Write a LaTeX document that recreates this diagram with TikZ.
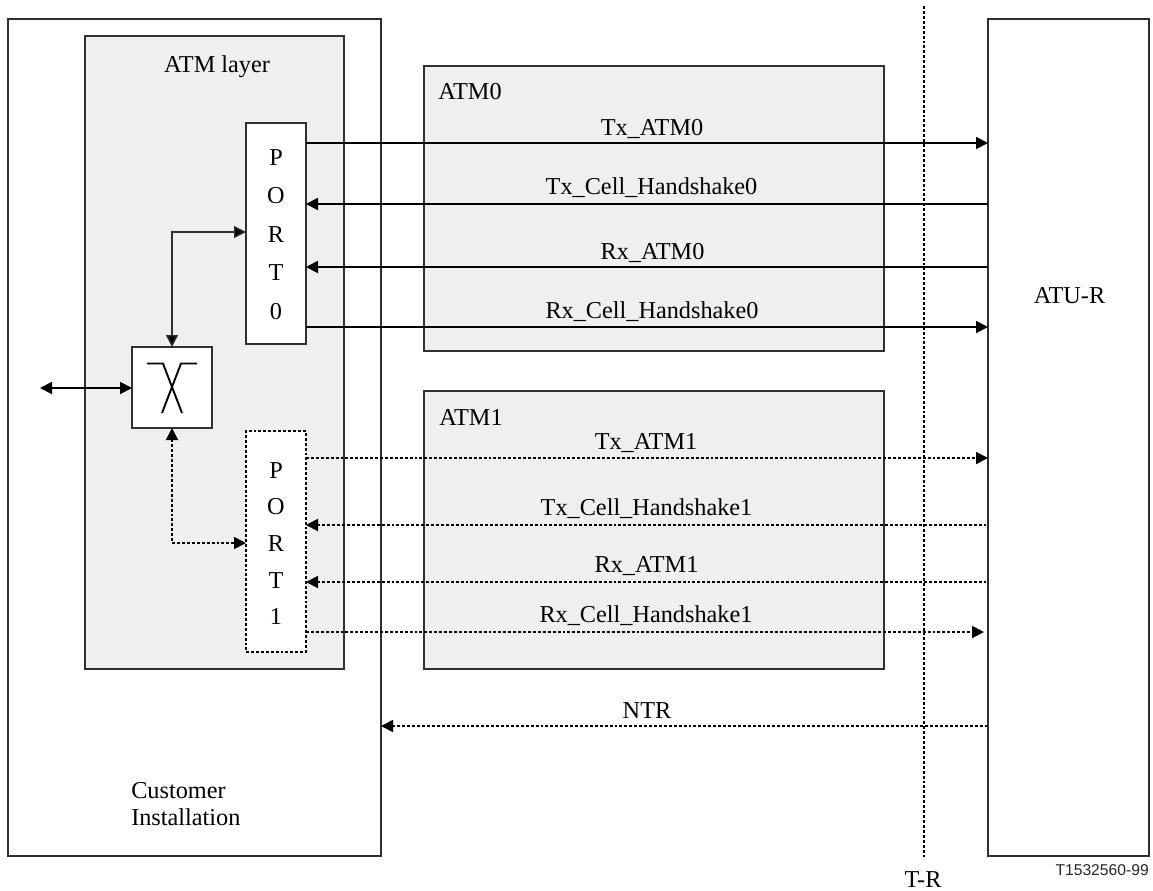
\documentclass[tikz,border=0pt]{standalone}
\usepackage{fontspec}
\setmainfont{Liberation Serif}
\newfontfamily\labelsans{Liberation Sans}
\usetikzlibrary{arrows.meta}
\definecolor{boxgrey}{HTML}{EFEFEF}
\definecolor{edgegrey}{HTML}{303030}
\tikzset{
  x=0.75pt,y=-0.75pt,
  boxnode/.style={draw=edgegrey,line width=0.8pt,inner sep=0pt,outer sep=0pt,anchor=north west,align=center},
  greybox/.style={boxnode,fill=boxgrey},
  whitebox/.style={boxnode,fill=white},
  dotbox/.style={boxnode,fill=white,draw=black,line width=1.3pt,dash pattern=on 2.2pt off 1.5pt},
  txt/.style={font=\fontsize{18.2}{20}\selectfont,inner sep=0pt,anchor=base},
  txtl/.style={txt,anchor=base west},
  portfonta/.style={font=\fontsize{18.2}{28.9}\selectfont},
  portfontb/.style={font=\fontsize{18.2}{27.4}\selectfont},
  tip/.style={-{Triangle[length=9pt,width=9pt,fill=black]}},
  rtip/.style={{Triangle[length=9pt,width=9pt,fill=black]}-},
  btip/.style={{Triangle[length=9pt,width=9pt,fill=black]}-{Triangle[length=9pt,width=9pt,fill=black]}},
  solidw/.style={line width=1.4pt},
  thinw/.style={line width=1pt,draw=edgegrey},
  dotw/.style={line width=1.4pt,dash pattern=on 2.2pt off 1.5pt},
}
\begin{document}
\begin{tikzpicture}
\useasboundingbox (0,0) rectangle (1153,890);
% boxes
\node[whitebox,minimum width=373*0.75pt,minimum height=837*0.75pt] (ci) at (8,19) {};
\node[greybox,minimum width=259*0.75pt,minimum height=633*0.75pt] (atmlayer) at (85,36) {};
\node[greybox,minimum width=460*0.75pt,minimum height=285*0.75pt] (atm0) at (424,66) {};
\node[greybox,minimum width=460*0.75pt,minimum height=278*0.75pt] (atm1) at (424,391) {};
\node[whitebox,minimum width=161*0.75pt,minimum height=837*0.75pt] (atur) at (988,19) {};
\node[whitebox,portfonta,minimum width=60*0.75pt,minimum height=221*0.75pt] (p0) at (246,123) {\rule{0pt}{13.5pt}P\\O\\R\\T\\0};
\node[dotbox,portfontb,minimum width=60*0.75pt,minimum height=221*0.75pt] (p1) at (246,431) {\rule{0pt}{15pt}P\\O\\R\\T\\1};
\node[whitebox,minimum width=80*0.75pt,minimum height=81*0.75pt] (sw) at (132,347) {};
% switch symbol
\draw[line width=1.4pt] (147,363.5) -- (163,363.5) -- (182,413);
\draw[line width=1.4pt] (197,363.5) -- (181,363.5) -- (162,413);
% y levels
\coordinate (y1) at (0,143); \coordinate (y2) at (0,204); \coordinate (y3) at (0,267); \coordinate (y4) at (0,327);
\coordinate (d1) at (0,458); \coordinate (d2) at (0,525); \coordinate (d3) at (0,582); \coordinate (d4) at (0,632);
\coordinate (n1) at (0,726);
\coordinate (ext) at (40,388);
\coordinate (tra) at (924,6);
\coordinate (trb) at (924,858);
\coordinate (rc1) at (984,632);
\coordinate (k0) at (172,232);
\coordinate (k1) at (172,543);
% T-R
\draw[dotw] (tra) -- (trb);
% solid
\draw[solidw,tip] (p0.east |- y1) -- (atur.west |- y1);
\draw[solidw,rtip] (p0.east |- y2) -- (atur.west |- y2);
\draw[solidw,rtip] (p0.east |- y3) -- (atur.west |- y3);
\draw[solidw,tip] (p0.east |- y4) -- (atur.west |- y4);
\draw[solidw,btip] (ext) -- (sw.west |- ext);
\draw[thinw,btip] (sw.north -| k0) -- (k0) -- (p0.west |- k0);
% dotted
\draw[dotw,tip] (p1.east |- d1) -- (atur.west |- d1);
\draw[dotw,rtip] (p1.east |- d2) -- (atur.west |- d2);
\draw[dotw,rtip] (p1.east |- d3) -- (atur.west |- d3);
\draw[dotw,tip] (p1.east |- d4) -- (rc1);
\draw[dotw,rtip] (ci.east |- n1) -- (atur.west |- n1);
\draw[dotw,btip] (sw.south -| k1) -- (k1) -- (p1.west |- k1);
% labels
\node[txt] (la) at (217,72.5) {ATM layer};
\node[txtl] (l0) at (438,99) {ATM0};
\node[txtl] (l1) at (439,425) {ATM1};
\node[txt] (t1) at (652,135) {Tx\_ATM0};
\node[txt] (t2) at (651.5,194) {Tx\_Cell\_Handshake0};
\node[txt] (t3) at (652.5,259) {Rx\_ATM0};
\node[txt] (t4) at (652,318) {Rx\_Cell\_Handshake0};
\node[txt] (t5) at (646,449.5) {Tx\_ATM1};
\node[txt] (t6) at (646.5,515.5) {Tx\_Cell\_Handshake1};
\node[txt] (t7) at (646.5,572.5) {Rx\_ATM1};
\node[txt] (t8) at (646,622.5) {Rx\_Cell\_Handshake1};
\node[txt] (t9) at (647,718) {NTR};
\node[txt] (lr) at (1069.5,303) {ATU-R};
\node[txtl] (c1) at (131,798) {Customer};
\node[txtl] (c2) at (131,825.5) {Installation};
\node[txt] (tr) at (923,887) {T-R};
\node[inner sep=0pt,anchor=base east,font=\labelsans\fontsize{11.75}{13}\selectfont,text=black!85] (id) at (1149,875) {T1532560-99};
\end{tikzpicture}
\end{document}
